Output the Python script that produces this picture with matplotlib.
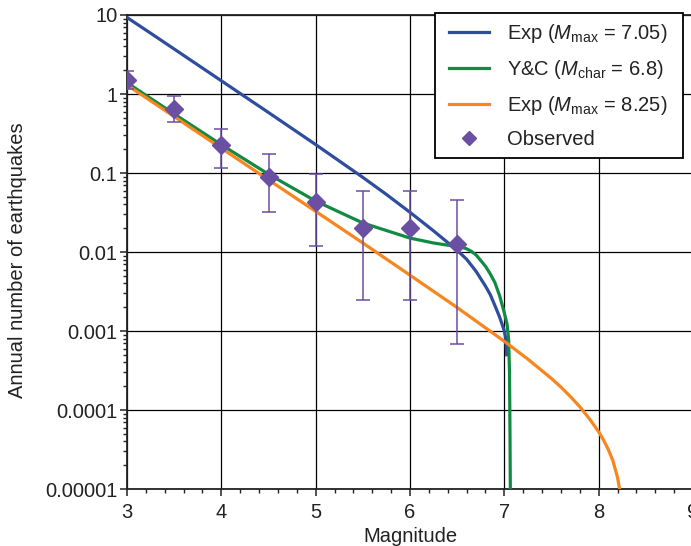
import matplotlib
matplotlib.use("Agg")
import matplotlib.pyplot as plt
import matplotlib.patches as patches
from matplotlib.ticker import LogLocator, MultipleLocator, FixedLocator, FixedFormatter

plt.rcParams['font.family'] = ['Liberation Sans', 'DejaVu Sans']
plt.rcParams['mathtext.fontset'] = 'custom'
plt.rcParams['mathtext.rm'] = 'Liberation Sans'
plt.rcParams['mathtext.it'] = 'Liberation Sans:italic'

# Exp (Mmax = 7.05)
m_exp1 = [3.0, 3.25, 3.5, 4.0, 4.5, 5.0, 5.5, 5.75, 6.0, 6.25, 6.5, 6.6, 6.7,
          6.8, 6.85, 6.9, 6.95, 7.0, 7.015, 7.025]
n_exp1 = [9.3, 5.89, 3.71, 1.47, 0.583, 0.229, 0.088, 0.0535, 0.0318, 0.0185,
          0.0105, 0.0081, 0.0057, 0.0037, 0.0029, 0.0021, 0.0015, 0.0010,
          0.0008, 0.0005]

# Y&C (Mchar = 6.8)
m_yc = [3.0, 3.5, 4.0, 4.5, 5.0, 5.5, 6.0, 6.25, 6.5, 6.55, 6.6, 6.65, 6.7,
        6.75, 6.8, 6.85, 6.9, 6.95, 7.0, 7.03, 7.045, 7.055, 7.06, 7.065]
n_yc = [1.39, 0.559, 0.228, 0.0966, 0.0441, 0.0233, 0.0150, 0.0130, 0.0117,
        0.0115, 0.0110, 0.0102, 0.0092, 0.0078, 0.0066, 0.0053, 0.0041, 0.0028,
        0.0017, 0.0012, 0.0008, 0.0003, 0.00005, 0.000005]

# Exp (Mmax = 8.25)
m_exp2 = [3.0, 3.5, 4.0, 4.5, 5.0, 5.5, 6.0, 6.5, 7.0, 7.25, 7.5, 7.6, 7.7,
          7.8, 7.9, 8.0, 8.05, 8.1, 8.15, 8.2, 8.225, 8.25]
n_exp2 = [1.3, 0.518, 0.206, 0.082, 0.0327, 0.0130, 0.00509, 0.00198, 0.00074,
          0.00044, 0.00025, 0.000195, 0.000148, 0.000110, 0.000078, 0.000053,
          0.000042, 0.000032, 0.000023, 0.000014, 0.0000095, 0.000005]

# Observed with error bars
m_obs = [3.0, 3.5, 4.0, 4.5, 5.0, 5.5, 6.0, 6.5]
n_obs = [1.5, 0.64, 0.225, 0.088, 0.043, 0.020, 0.020, 0.0127]
n_obs_hi = [1.95, 0.95, 0.357, 0.172, 0.097, 0.060, 0.060, 0.0455]
n_obs_lo = [1.16, 0.44, 0.115, 0.032, 0.0119, 0.00245, 0.00245, 0.00068]

y_ticks = [1e-5, 1e-4, 1e-3, 1e-2, 1e-1, 1, 10]
y_labels = ['0.00001', '0.0001', '0.001', '0.01', '0.1', '1', '10']

c_blue = '#2f4d9e'
c_green = '#138a43'
c_orange = '#f7861f'
c_purple = '#6a4fa3'
c_text = '#222222'

W, H = 691, 546
fig = plt.figure(figsize=(W / 100, H / 100), dpi=100)
ax = fig.add_axes([127 / W, 57 / H, 566 / W, 474 / H])

ax.plot(m_exp1, n_exp1, color=c_blue, lw=2.3, label=r'Exp ($M_{\mathrm{max}}$ = 7.05)', zorder=3)
ax.plot(m_yc, n_yc, color=c_green, lw=2.3, label=r'Y&C ($M_{\mathrm{char}}$ = 6.8)', zorder=3)
ax.plot(m_exp2, n_exp2, color=c_orange, lw=2.3, label=r'Exp ($M_{\mathrm{max}}$ = 8.25)', zorder=3)

err = [[n - lo for n, lo in zip(n_obs, n_obs_lo)], [hi - n for n, hi in zip(n_obs, n_obs_hi)]]
ax.errorbar(m_obs, n_obs, yerr=err, fmt='none', ecolor=c_purple, elinewidth=1.1,
            capsize=5, capthick=1.1, zorder=4)
ax.plot(m_obs, n_obs, 'D', color=c_purple, ms=9, ls='none', label='Observed', zorder=5)

ax.set_yscale('log')
ax.set_xlim(3, 9)
ax.set_ylim(1e-5, 10)

ax.xaxis.set_major_locator(MultipleLocator(1))
ax.xaxis.set_minor_locator(MultipleLocator(0.2))
ax.yaxis.set_major_locator(FixedLocator(y_ticks))
ax.yaxis.set_major_formatter(FixedFormatter(y_labels))
ax.yaxis.set_minor_locator(LogLocator(base=10, subs=range(2, 10)))
ax.yaxis.set_minor_formatter(FixedFormatter([]))

ax.tick_params(which='major', length=5, width=1.1, labelsize=14.5, color=c_text, labelcolor=c_text)
ax.tick_params(axis='x', which='major', pad=5)
ax.tick_params(axis='y', which='major', pad=2)
ax.tick_params(which='minor', length=3, width=1.0, color=c_text)
ax.grid(True, which='major', color='black', lw=0.9)
for s in ax.spines.values():
    s.set_linewidth(1.3)
    s.set_color(c_text)

ax.set_xlabel('Magnitude', fontsize=14.5, color=c_text, labelpad=4)
ax.set_ylabel('Annual number of earthquakes', fontsize=14.5, color=c_text)
ax.yaxis.set_label_coords(-100 / 566, 0.483)

# legend box (white with black frame), entries placed inside it
box = patches.Rectangle((435 / W, 1 - 158 / H), 248 / W, 145 / H, transform=fig.transFigure,
                        facecolor='white', edgecolor='black', lw=1.3, zorder=9, clip_on=False)
ax.add_patch(box)
leg = ax.legend(loc='upper right', bbox_to_anchor=(676 / W, 1 - 14 / H),
                bbox_transform=fig.transFigure, fontsize=14.5, frameon=False,
                borderaxespad=0, handlelength=2.0, handletextpad=0.9,
                labelspacing=0.64, markerscale=0.75, borderpad=0.42)
leg.set_zorder(10)
for t in leg.get_texts():
    t.set_color(c_text)

fig.savefig('out.png', dpi=100)
